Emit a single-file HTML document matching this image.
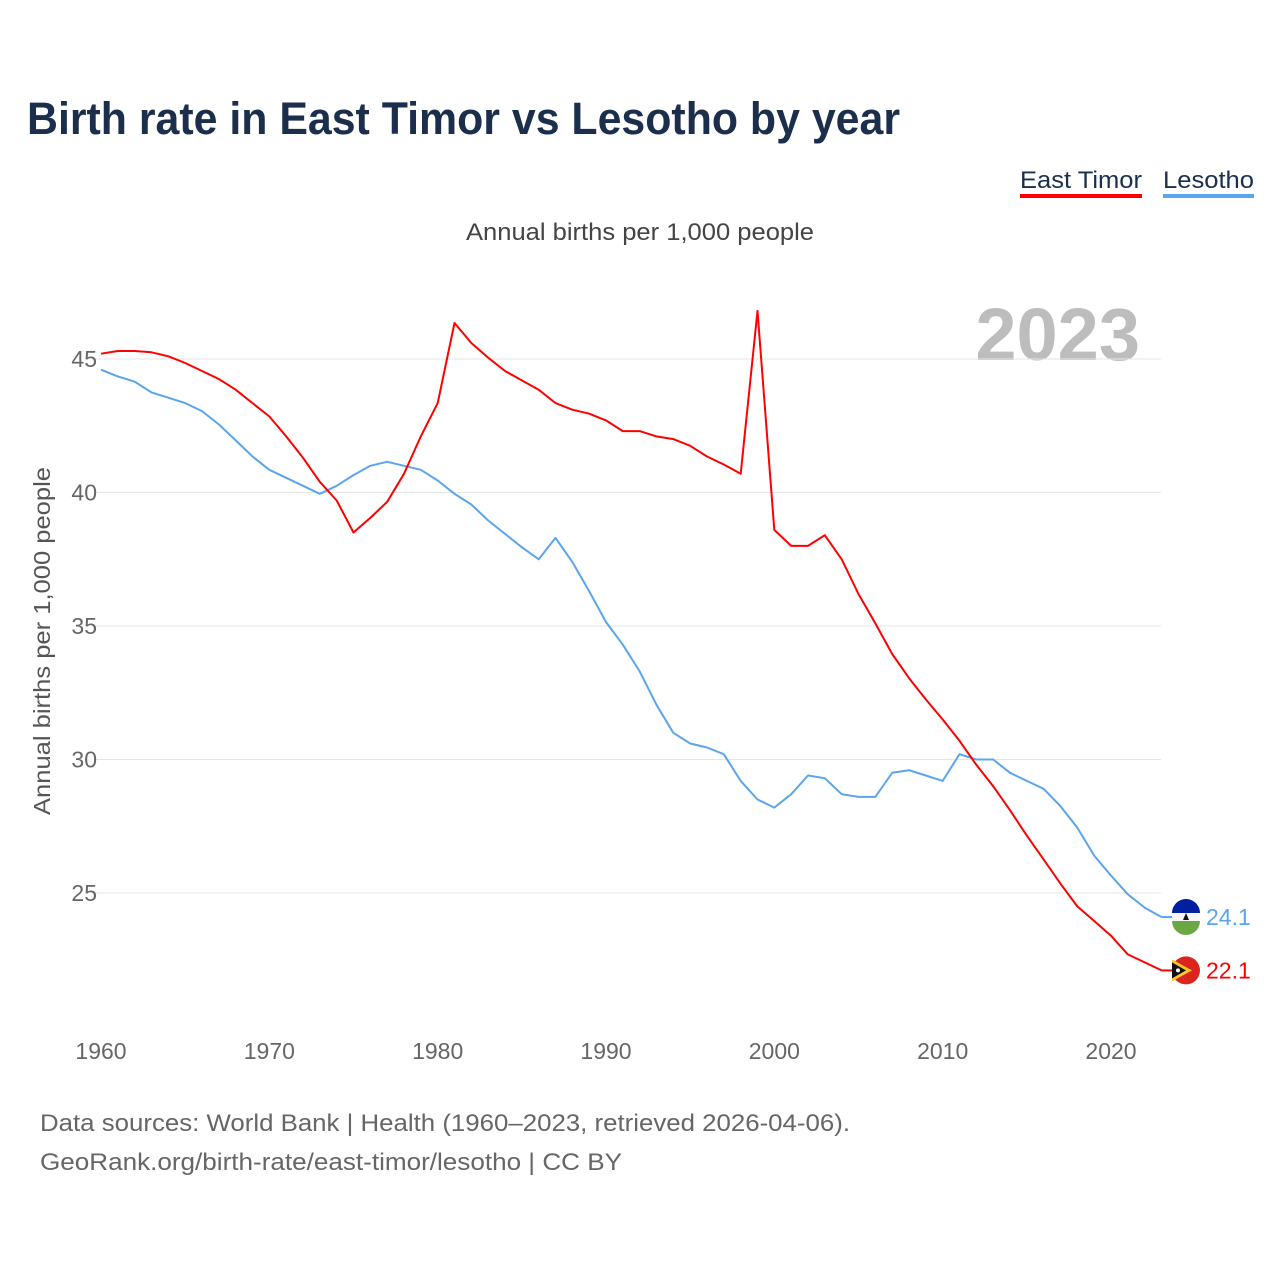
<!DOCTYPE html>
<html><head><meta charset="utf-8">
<style>
body{margin:0;background:#fff;font-family:"Liberation Sans",sans-serif;}
#wrap{position:relative;width:1280px;height:1280px;overflow:hidden;}
</style></head>
<body>
<div id="wrap">
<svg id="chart" width="1280" height="1280" xmlns="http://www.w3.org/2000/svg">
<text x="27" y="134" font-size="45" font-weight="bold" fill="#1b2f4d" textLength="873" lengthAdjust="spacingAndGlyphs">Birth rate in East Timor vs Lesotho by year</text>
<g>
<text x="1020" y="188" font-size="24" fill="#1b2f4d" textLength="122" lengthAdjust="spacingAndGlyphs">East Timor</text>
<rect x="1020" y="194" width="122" height="4" fill="#ff0000"/>
<text x="1163" y="188" font-size="24" fill="#1b2f4d" textLength="91" lengthAdjust="spacingAndGlyphs">Lesotho</text>
<rect x="1163" y="194" width="91" height="4" fill="#5aa5ee"/>
</g>
<text x="466" y="240" font-size="24" fill="#444" textLength="348" lengthAdjust="spacingAndGlyphs">Annual births per 1,000 people</text>
<text x="1140" y="360" font-size="74" font-weight="bold" fill="#bdbdbd" text-anchor="end">2023</text>
<text transform="translate(50,815) rotate(-90)" font-size="23" fill="#555" textLength="348" lengthAdjust="spacingAndGlyphs">Annual births per 1,000 people</text>
<g id="grid"></g>
<g id="yticks"></g>
<g id="xticks"></g>
<g id="series"></g>
<g id="ends"></g>
<text x="40" y="1131" font-size="24" fill="#666" textLength="810" lengthAdjust="spacingAndGlyphs">Data sources: World Bank | Health (1960–2023, retrieved 2026-04-06).</text>
<text x="40" y="1170" font-size="24" fill="#666" textLength="582" lengthAdjust="spacingAndGlyphs">GeoRank.org/birth-rate/east-timor/lesotho | CC BY</text>
</svg>
</div>
<script>
const years = [];
for (let y = 1960; y <= 2023; y++) years.push(y);
const eastTimor = [45.2,45.3,45.3,45.25,45.1,44.85,44.55,44.25,43.85,43.35,42.85,42.1,41.3,40.4,39.7,38.5,39.05,39.65,40.7,42.1,43.35,46.35,45.6,45.05,44.55,44.2,43.85,43.35,43.1,42.95,42.7,42.3,42.3,42.1,42.0,41.75,41.35,41.05,40.7,46.8,38.6,38.0,38.0,38.4,37.5,36.2,35.1,33.95,33.05,32.25,31.5,30.7,29.8,29.0,28.1,27.15,26.25,25.35,24.5,23.95,23.4,22.7,22.4,22.1];
const lesotho = [44.6,44.35,44.15,43.75,43.55,43.35,43.05,42.55,41.95,41.35,40.85,40.55,40.25,39.95,40.25,40.65,41.0,41.15,41.0,40.85,40.45,39.95,39.55,38.95,38.45,37.95,37.5,38.3,37.4,36.3,35.15,34.3,33.3,32.05,31.0,30.6,30.45,30.2,29.2,28.5,28.2,28.7,29.4,29.3,28.7,28.6,28.6,29.5,29.6,29.4,29.2,30.2,30.0,30.0,29.5,29.2,28.9,28.25,27.45,26.4,25.65,24.95,24.45,24.1];
const yTicks = [25,30,35,40,45];
const xTicks = [1960,1970,1980,1990,2000,2010,2020];

const NS = "http://www.w3.org/2000/svg";
const xS = y => 101 + (y - 1960) * (1010 / 60);
const yS = v => 359 + (45 - v) * 26.7;
function mk(tag, attrs, parent){const e=document.createElementNS(NS,tag);for(const k in attrs)e.setAttribute(k,attrs[k]);parent.appendChild(e);return e;}

const grid=document.getElementById('grid'), yt=document.getElementById('yticks'), xt=document.getElementById('xticks');
yTicks.forEach(v=>{
  const l=mk('line',{x1:95,x2:1161,y1:yS(v),y2:yS(v),stroke:'#e6e6e6','stroke-width':1},grid);
  
  
  const t=mk('text',{x:97,y:yS(v)+8,'font-size':23,fill:'#666','text-anchor':'end'},yt);
  t.textContent=v;
  
  
});
xTicks.forEach(v=>{
  const t=mk('text',{x:xS(v),y:1059,'font-size':23,fill:'#666','text-anchor':'middle'},xt);
  t.textContent=v;
  
  
});
const ser=document.getElementById('series');
function line(vals,color,name){
  const d=vals.map((v,i)=>(i?'L':'M')+xS(years[i]).toFixed(1)+','+yS(v).toFixed(1)).join('');
  const p=mk('path',{d:d,fill:'none',stroke:color,'stroke-width':2,'stroke-linejoin':'round'},ser);
  
  
}
line(lesotho,'#5aa5ee','line-lesotho');
line(eastTimor,'#ff0000','line-east-timor');

const ends=document.getElementById('ends');
function endMark(vals,color,name,flag){
  const v=vals[vals.length-1], x=xS(years[years.length-1]), y=yS(v);
  mk('line',{x1:x,x2:1175,y1:y,y2:y,stroke:color,'stroke-width':2},ends);
  const g=mk('g',{},ends);
  
  
  const cx=1186;
  if(flag==='ls'){
    mk('circle',{cx:cx,cy:y,r:14,fill:'#f5f5f5'},g);
    mk('path',{d:`M${cx-14},${y-4} A14,14 0 0 1 ${cx+14},${y-4} Z`,fill:'#00209f'},g);
    mk('path',{d:`M${cx-14},${y+4} A14,14 0 0 0 ${cx+14},${y+4} Z`,fill:'#6ba844'},g);
    mk('path',{d:`M${cx-3},${y+3} L${cx+3},${y+3} L${cx},${y-4} Z`,fill:'#111'},g);
  } else {
    mk('circle',{cx:cx,cy:y,r:14,fill:'#dc241f'},g);
    mk('path',{d:`M${cx-14},${y-11} L${cx+6},${y} L${cx-14},${y+11} Z`,fill:'#ffc726'},g);
    mk('path',{d:`M${cx-14},${y-8} L${cx},${y} L${cx-14},${y+8} Z`,fill:'#111'},g);
    mk('circle',{cx:cx-8,cy:y,r:2,fill:'#fff'},g);
  }
  const t=mk('text',{x:1206,y:y+8,'font-size':23,fill:color},ends);
  t.textContent=v.toFixed(1);
  
  
}
endMark(lesotho,'#5aa5ee','lesotho','ls');
endMark(eastTimor,'#ff0000','east-timor','tl');
</script>
</body></html>
